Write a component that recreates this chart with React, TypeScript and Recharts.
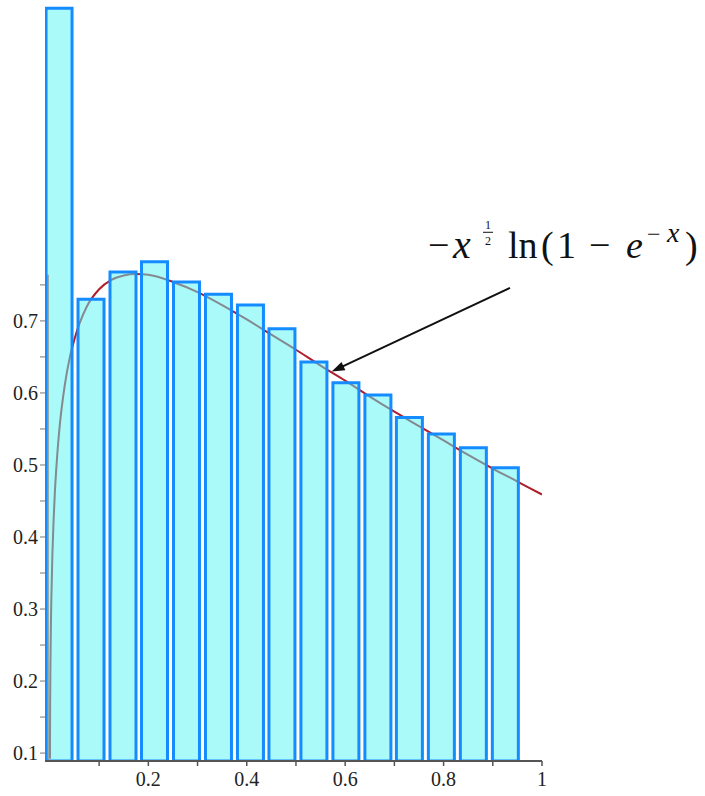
import React from 'react';
import {
    ComposedChart,
    Bar,
    Line,
    XAxis,
    YAxis,
    ReferenceLine
} from 'recharts';

// histogram bins (centre of each bin) and bar heights
const binCenters = [0.018, 0.083, 0.148, 0.212, 0.277, 0.342, 0.407, 0.471, 0.536, 0.601, 0.666, 0.730, 0.795, 0.860, 0.925];
const binHeights = [1.134, 0.730, 0.768, 0.782, 0.754, 0.737, 0.722, 0.689, 0.643, 0.614, 0.597, 0.566, 0.543, 0.524, 0.496];

// -x^(1/2) ln(1 - e^(-x))
const curveX = [0.0001, 0.0002, 0.0005, 0.001, 0.002, 0.003, 0.005, 0.0075, 0.01, 0.015, 0.02, 0.03, 0.04, 0.05, 0.075, 0.1, 0.125, 0.15, 0.175, 0.2, 0.25, 0.3, 0.35, 0.4, 0.45, 0.5, 0.55, 0.6, 0.65, 0.7, 0.75, 0.8, 0.85, 0.9, 0.95, 1.0];
const curveY = [0.092, 0.1205, 0.170, 0.218, 0.278, 0.318, 0.375, 0.424, 0.461, 0.515, 0.555, 0.610, 0.648, 0.675, 0.720, 0.744, 0.757, 0.763, 0.765, 0.764, 0.754, 0.740, 0.722, 0.702, 0.681, 0.660, 0.638, 0.617, 0.595, 0.574, 0.554, 0.534, 0.514, 0.495, 0.477, 0.459];

const xTicks = [0.1, 0.2, 0.3, 0.4, 0.5, 0.6, 0.7, 0.8, 0.9, 1];
const xTickLabels = ['', '0.2', '', '0.4', '', '0.6', '', '0.8', '', '1'];
const yTicks = [0.1, 0.15, 0.2, 0.25, 0.3, 0.35, 0.4, 0.45, 0.5, 0.55, 0.6, 0.65, 0.7, 0.75];
const yTickLabels = ['0.1', '', '0.2', '', '0.3', '', '0.4', '', '0.5', '', '0.6', '', '0.7', ''];

const barData = binCenters.map((x, i) => ({ x, h: binHeights[i] }));
const curveData = curveX.map((x, i) => ({ x, y: curveY[i] }));

const arrowSegment = [{ x: 0.935, y: 0.746 }, { x: 0.5726, y: 0.6296 }];
const yAxisSegment = [{ x: -0.004, y: 0.089 }, { x: -0.004, y: 0.764 }];

const serif = '"Liberation Serif", "DejaVu Serif", serif';
const X_DOMAIN = [-0.01, 1];

// arrow with the formula written above its tail
const ArrowWithFormula = (props: any) => {
    const { x1, y1, x2, y2 } = props;
    const dx = x2 - x1;
    const dy = y2 - y1;
    const len = Math.sqrt(dx * dx + dy * dy);
    const ux = dx / len;
    const uy = dy / len;
    const head = 13;
    const half = 4.5;
    const bx = x2 - ux * head;
    const by = y2 - uy * head;
    const pts = `${x2},${y2} ${bx - uy * half},${by + ux * half} ${bx + uy * half},${by - ux * half}`;
    const base = y1 - 30;
    const tx = x1 - 82;
    return (
        <g>
            <line x1={x1} y1={y1} x2={bx + ux * 2} y2={by + uy * 2} stroke="#111" strokeWidth={2} />
            <polygon points={pts} fill="#111" />
            <g fontFamily={serif} fill="#111">
                <text x={tx} y={base} fontSize={38}>−</text>
                <text x={tx + 25} y={base} fontSize={40} fontStyle="italic">x</text>
                <text x={tx + 60} y={base - 29} fontSize={12} textAnchor="middle">1</text>
                <line x1={tx + 55} y1={base - 25.5} x2={tx + 65} y2={base - 25.5} stroke="#111" strokeWidth={1} />
                <text x={tx + 60} y={base - 13} fontSize={12} textAnchor="middle">2</text>
                <text x={tx + 80} y={base} fontSize={38}>ln</text>
                <text x={tx + 113} y={base} fontSize={38}>(</text>
                <text x={tx + 129} y={base} fontSize={38}>1</text>
                <text x={tx + 161} y={base} fontSize={38}>−</text>
                <text x={tx + 198} y={base} fontSize={38} fontStyle="italic">e</text>
                <text x={tx + 219} y={base - 16} fontSize={24}>−</text>
                <text x={tx + 239} y={base - 16} fontSize={28} fontStyle="italic">x</text>
                <text x={tx + 257} y={base} fontSize={38}>)</text>
            </g>
        </g>
    );
};

export default function App() {
    return (
        <div style={{ position: 'absolute', left: 0, top: 0, background: '#fff' }}>
            <ComposedChart
                width={705}
                height={796}
                data={barData}
                margin={{ top: 4, right: 163, left: 0, bottom: 0 }}
            >
                <XAxis
                    type="number"
                    dataKey="x"
                    domain={X_DOMAIN}
                    allowDataOverflow
                    ticks={xTicks}
                    interval={0}
                    height={35}
                    tickSize={5}
                    tickMargin={6}
                    tickFormatter={(v: number) => xTickLabels[xTicks.indexOf(v)] ?? ''}
                    axisLine={{ stroke: '#555', strokeWidth: 2 }}
                    tickLine={{ stroke: '#555', strokeWidth: 1.5 }}
                    tick={{ fill: '#222', fontSize: 20, fontFamily: serif }}
                />
                {/* separate hidden axis for the curve so its dense x values don't shrink the bars */}
                <XAxis xAxisId="curve" type="number" dataKey="x" domain={X_DOMAIN} allowDataOverflow hide />
                <YAxis
                    type="number"
                    domain={[0.089, 1.14]}
                    allowDataOverflow
                    ticks={yTicks}
                    interval={0}
                    width={45}
                    tickSize={5}
                    tickMargin={2}
                    tickFormatter={(v: number) => yTickLabels[yTicks.indexOf(v)] ?? ''}
                    axisLine={false}
                    tickLine={{ stroke: '#777', strokeWidth: 1 }}
                    tick={{ fill: '#222', fontSize: 20, fontFamily: serif }}
                />
                <Line
                    xAxisId="curve"
                    data={curveData}
                    dataKey="y"
                    type="monotone"
                    stroke="#b01e2a"
                    strokeWidth={2}
                    dot={false}
                    activeDot={false}
                    isAnimationActive={false}
                    zIndex={250}
                />
                <Bar
                    dataKey="h"
                    barSize={26}
                    fill="#55f5f5"
                    fillOpacity={0.5}
                    stroke="#148cff"
                    strokeWidth={3}
                    isAnimationActive={false}
                />
                <ReferenceLine segment={yAxisSegment} stroke="#888" strokeWidth={1.5} />
                <ReferenceLine segment={arrowSegment} shape={ArrowWithFormula} />
            </ComposedChart>
        </div>
    );
}
